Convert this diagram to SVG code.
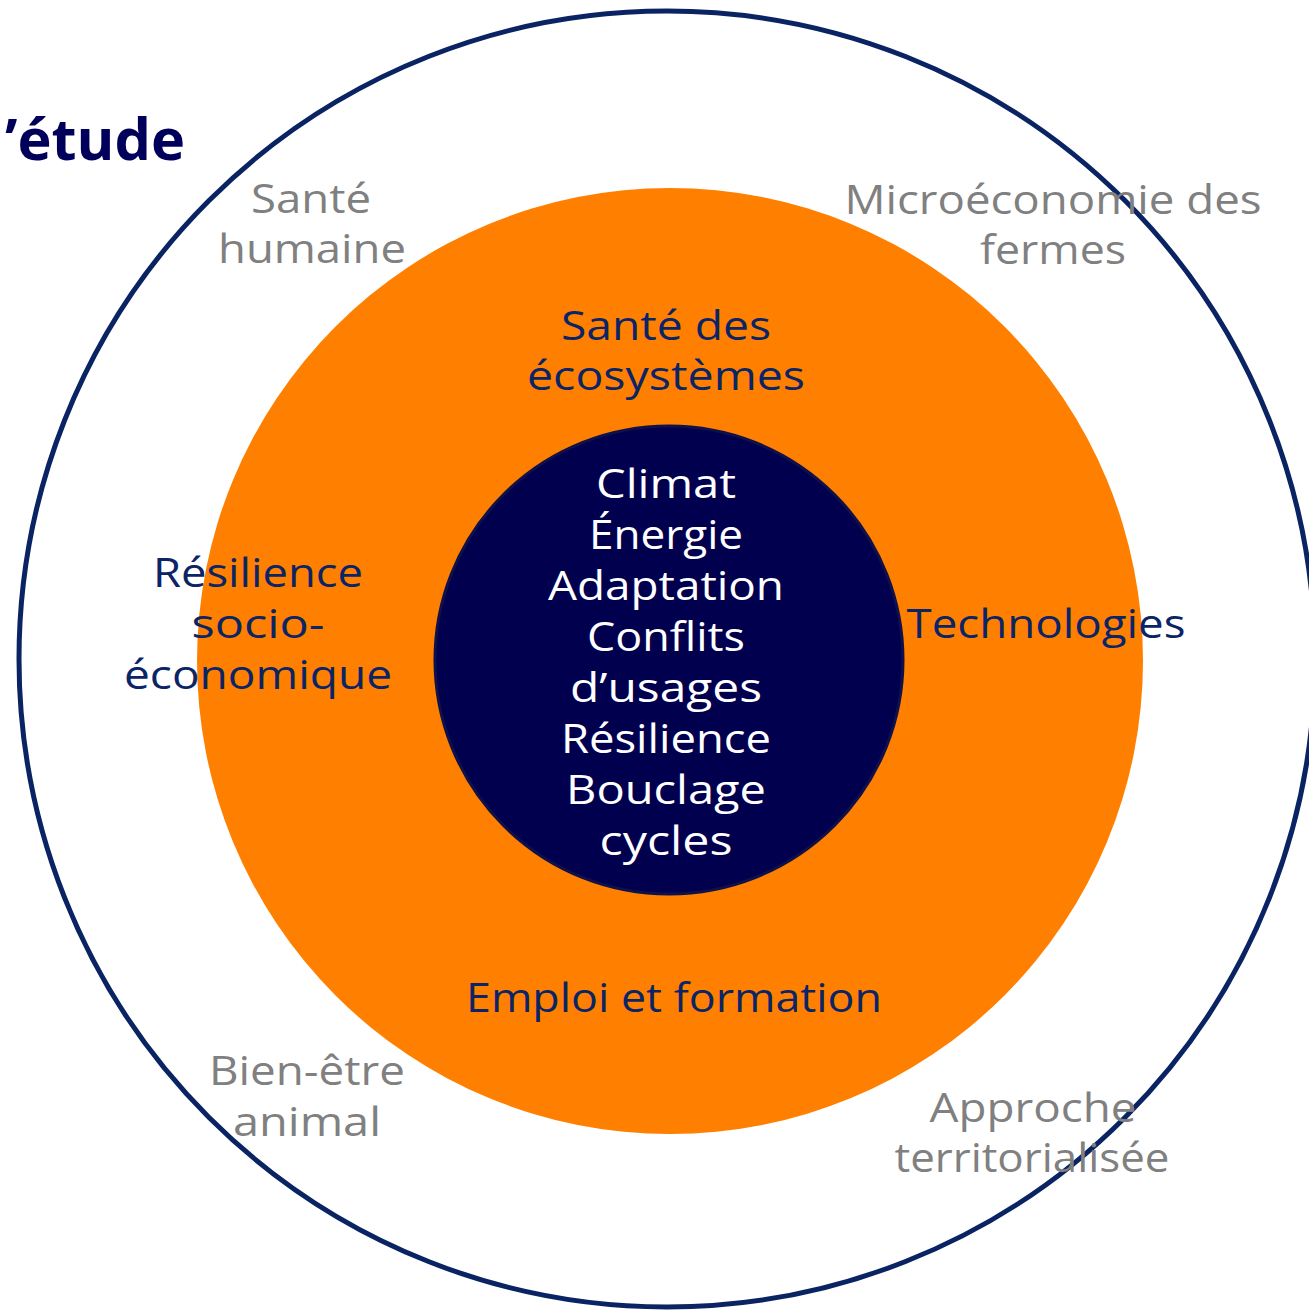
<svg xmlns="http://www.w3.org/2000/svg" width="1309" height="1312" viewBox="0 0 1309 1312">
<style>
text{font-family:"Open Sans","Liberation Sans",sans-serif;font-size:40px;text-anchor:middle}
.g{fill:#808080}
.n{fill:#0b2466}
.w{fill:#ffffff}
.t{font-weight:bold;fill:#00005a;font-size:58px;text-anchor:end}
</style>
<rect width="1309" height="1312" fill="#ffffff"/>
<g id="outer"><circle cx="667" cy="659" r="648" fill="none" stroke="#0a2463" stroke-width="5"/></g>
<g id="middle"><circle cx="670" cy="661" r="473" fill="#ff8000"/></g>
<g id="core"><circle cx="669" cy="660" r="234" fill="#00004f" stroke="#10104a" stroke-width="3"/></g>
<g id="title"><text class="t" x="185" y="160" textLength="180" lengthAdjust="spacingAndGlyphs">’étude</text></g>
<g id="labels-outer">
<text class="g" x="311" y="213" textLength="120" lengthAdjust="spacingAndGlyphs">Santé</text>
<text class="g" x="312" y="263" textLength="188" lengthAdjust="spacingAndGlyphs">humaine</text>
<text class="g" x="1053" y="214" textLength="417" lengthAdjust="spacingAndGlyphs">Microéconomie des</text>
<text class="g" x="1053" y="264" textLength="146" lengthAdjust="spacingAndGlyphs">fermes</text>
<text class="g" x="307" y="1085" textLength="196" lengthAdjust="spacingAndGlyphs">Bien-être</text>
<text class="g" x="307" y="1136" textLength="148" lengthAdjust="spacingAndGlyphs">animal</text>
<text class="g" x="1033" y="1122" textLength="207" lengthAdjust="spacingAndGlyphs">Approche</text>
<text class="g" x="1032" y="1172" textLength="275" lengthAdjust="spacingAndGlyphs">territorialisée</text>
</g>
<g id="labels-middle">
<text class="n" x="666" y="340" textLength="210" lengthAdjust="spacingAndGlyphs">Santé des</text>
<text class="n" x="666" y="390" textLength="278" lengthAdjust="spacingAndGlyphs">écosystèmes</text>
<text class="n" x="258" y="587" textLength="210" lengthAdjust="spacingAndGlyphs">Résilience</text>
<text class="n" x="258" y="638" textLength="133" lengthAdjust="spacingAndGlyphs">socio-</text>
<text class="n" x="258" y="689" textLength="268" lengthAdjust="spacingAndGlyphs">économique</text>
<text class="n" x="1046" y="638" textLength="279" lengthAdjust="spacingAndGlyphs">Technologies</text>
<text class="n" x="674" y="1012" textLength="416" lengthAdjust="spacingAndGlyphs">Emploi et formation</text>
</g>
<g id="labels-core">
<text class="w" x="666" y="498" textLength="140" lengthAdjust="spacingAndGlyphs">Climat</text>
<text class="w" x="666" y="549" textLength="154" lengthAdjust="spacingAndGlyphs">Énergie</text>
<text class="w" x="666" y="600" textLength="236" lengthAdjust="spacingAndGlyphs">Adaptation</text>
<text class="w" x="666" y="651" textLength="158" lengthAdjust="spacingAndGlyphs">Conflits</text>
<text class="w" x="666" y="702" textLength="192" lengthAdjust="spacingAndGlyphs">d’usages</text>
<text class="w" x="666" y="753" textLength="210" lengthAdjust="spacingAndGlyphs">Résilience</text>
<text class="w" x="666" y="804" textLength="200" lengthAdjust="spacingAndGlyphs">Bouclage</text>
<text class="w" x="666" y="855" textLength="133" lengthAdjust="spacingAndGlyphs">cycles</text>
</g>
</svg>
